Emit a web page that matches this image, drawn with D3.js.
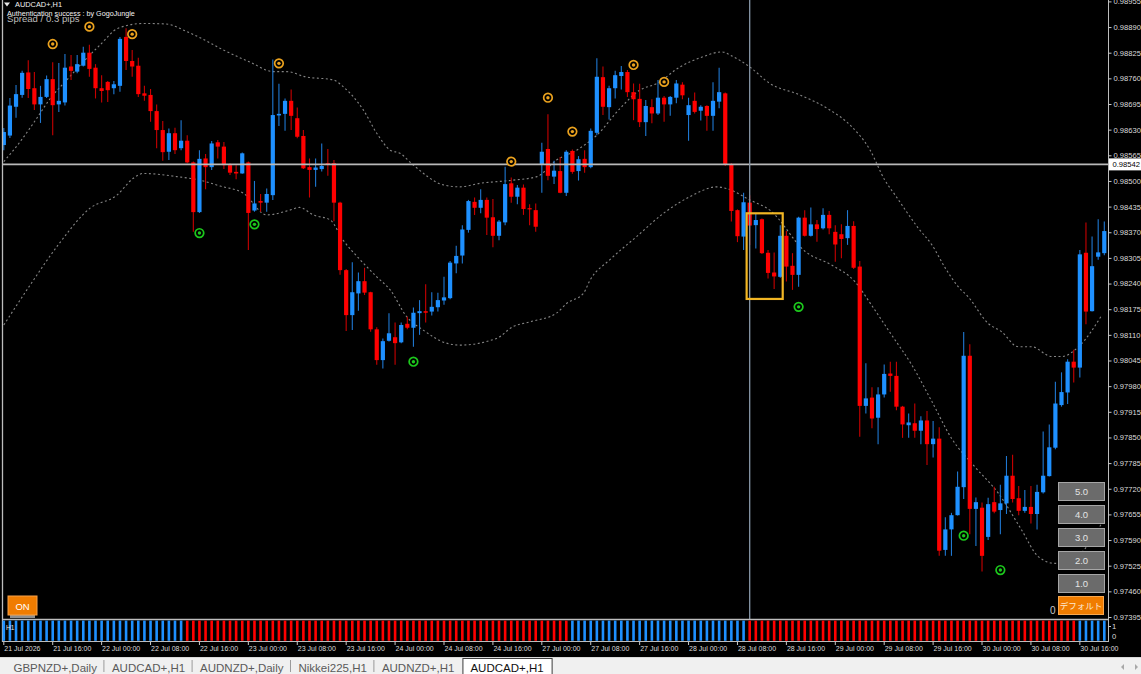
<!DOCTYPE html>
<html><head><meta charset="utf-8">
<script src="https://cdn.jsdelivr.net/npm/d3@7/dist/d3.min.js"></script>
<style>
html,body{margin:0;padding:0;background:#000;overflow:hidden}
svg{display:block;font-family:"Liberation Sans",Arial,sans-serif}
</style></head><body>
<svg id="c" width="1141" height="674"></svg>
<script>
// ---------- DATA (AUDCAD+, H1) ----------
const opens=[0.98591,0.98615,0.98688,0.98718,0.98775,0.98735,0.98694,0.98713,0.98758,0.98694,
0.98699,0.98790,0.98777,0.98792,0.98825,0.98787,0.98735,0.98751,0.98735,0.98741,
0.98865,0.98804,0.98792,0.98722,0.98718,0.98677,0.98629,0.98574,0.98621,0.98583,
0.98602,0.98547,0.98421,0.98557,0.98535,0.98598,0.98587,0.98540,0.98523,0.98519,
0.98547,0.98425,0.98449,0.98445,0.98464,0.98666,0.98670,0.98703,0.98659,0.98614,
0.98535,0.98528,0.98530,0.98545,0.98545,0.98445,0.98274,0.98160,0.98215,0.98246,
0.98218,0.98124,0.98046,0.98095,0.98104,0.98091,0.98138,0.98128,0.98165,0.98170,
0.98169,0.98180,0.98197,0.98203,0.98291,0.98311,0.98376,0.98447,0.98432,0.98452,
0.98408,0.98361,0.98395,0.98494,0.98460,0.98483,0.98431,0.98426,0.98543,0.98581,
0.98511,0.98525,0.98470,0.98576,0.98525,0.98556,0.98535,0.98622,0.98763,0.98687,
0.98735,0.98766,0.98776,0.98725,0.98708,0.98649,0.98687,0.98671,0.98711,0.98694,
0.98711,0.98744,0.98667,0.98703,0.98678,0.98690,0.98665,0.98701,0.98722,0.98543,
0.98426,0.98359,0.98445,0.98388,0.98403,0.98318,0.98268,0.98257,0.98361,0.98285,
0.98262,0.98407,0.98361,0.98390,0.98380,0.98414,0.98371,0.98365,0.98355,0.98386,
0.98283,0.97930,0.97951,0.97900,0.97959,0.98012,0.98006,0.97928,0.97881,0.97886,
0.97867,0.97893,0.97833,0.97847,0.97565,0.97617,0.97653,0.97724,0.98057,0.97669,
0.97672,0.97598,0.97686,0.97666,0.97683,0.97753,0.97696,0.97664,0.97674,0.97656,
0.97711,0.97752,0.97824,0.97932,0.97964,0.98042,0.98027,0.98318,0.98170,0.98308,
0.98317];
const highs=[0.98634,0.98710,0.98743,0.98779,0.98806,0.98776,0.98741,0.98767,0.98801,0.98799,
0.98822,0.98819,0.98819,0.98840,0.98845,0.98796,0.98768,0.98753,0.98753,0.98865,
0.98887,0.98832,0.98812,0.98741,0.98733,0.98694,0.98652,0.98633,0.98635,0.98654,
0.98616,0.98549,0.98578,0.98568,0.98601,0.98604,0.98599,0.98545,0.98540,0.98572,
0.98549,0.98500,0.98467,0.98481,0.98808,0.98746,0.98709,0.98732,0.98686,0.98629,
0.98557,0.98557,0.98595,0.98581,0.98553,0.98447,0.98277,0.98294,0.98268,0.98280,
0.98219,0.98129,0.98101,0.98165,0.98141,0.98141,0.98156,0.98179,0.98198,0.98238,
0.98218,0.98217,0.98257,0.98297,0.98336,0.98388,0.98452,0.98458,0.98479,0.98458,
0.98454,0.98401,0.98536,0.98509,0.98490,0.98491,0.98441,0.98443,0.98597,0.98669,
0.98551,0.98561,0.98578,0.98580,0.98563,0.98578,0.98633,0.98811,0.98790,0.98741,
0.98779,0.98791,0.98781,0.98747,0.98746,0.98705,0.98707,0.98756,0.98715,0.98715,
0.98756,0.98750,0.98711,0.98724,0.98692,0.98692,0.98750,0.98787,0.98724,0.98545,
0.98428,0.98470,0.98464,0.98416,0.98405,0.98325,0.98319,0.98388,0.98373,0.98317,
0.98409,0.98426,0.98433,0.98401,0.98431,0.98424,0.98388,0.98390,0.98426,0.98398,
0.98297,0.98038,0.97977,0.97977,0.98035,0.98042,0.98042,0.97930,0.97911,0.97936,
0.97904,0.97917,0.97892,0.97876,0.97648,0.97659,0.97764,0.98117,0.98086,0.97698,
0.97685,0.97697,0.97725,0.97730,0.97803,0.97806,0.97727,0.97717,0.97727,0.97730,
0.97865,0.97883,0.97991,0.98015,0.98048,0.98072,0.98325,0.98395,0.98359,0.98403,
0.98397];
const lows=[0.98578,0.98609,0.98660,0.98711,0.98710,0.98680,0.98647,0.98710,0.98616,0.98675,
0.98691,0.98756,0.98773,0.98790,0.98764,0.98709,0.98699,0.98700,0.98720,0.98726,
0.98781,0.98764,0.98713,0.98703,0.98650,0.98583,0.98551,0.98553,0.98568,0.98578,
0.98545,0.98371,0.98419,0.98479,0.98528,0.98557,0.98530,0.98515,0.98504,0.98518,
0.98325,0.98422,0.98422,0.98422,0.98452,0.98639,0.98627,0.98629,0.98608,0.98530,
0.98458,0.98485,0.98524,0.98513,0.98398,0.98262,0.98120,0.98122,0.98171,0.98211,
0.98118,0.98034,0.98025,0.98093,0.98034,0.98089,0.98124,0.98080,0.98110,0.98141,
0.98159,0.98169,0.98186,0.98200,0.98266,0.98291,0.98369,0.98414,0.98418,0.98363,
0.98332,0.98350,0.98388,0.98445,0.98441,0.98414,0.98388,0.98371,0.98470,0.98502,
0.98492,0.98469,0.98462,0.98518,0.98501,0.98521,0.98532,0.98616,0.98667,0.98656,
0.98709,0.98732,0.98713,0.98654,0.98637,0.98614,0.98646,0.98667,0.98650,0.98665,
0.98697,0.98707,0.98602,0.98671,0.98653,0.98627,0.98627,0.98684,0.98538,0.98397,
0.98345,0.98325,0.98338,0.98329,0.98315,0.98253,0.98226,0.98255,0.98245,0.98224,
0.98232,0.98359,0.98359,0.98346,0.98377,0.98365,0.98295,0.98304,0.98338,0.98277,
0.97852,0.97911,0.97873,0.97833,0.97951,0.97966,0.97919,0.97849,0.97849,0.97849,
0.97833,0.97780,0.97799,0.97550,0.97550,0.97550,0.97652,0.97694,0.97605,0.97575,
0.97510,0.97590,0.97658,0.97605,0.97656,0.97685,0.97653,0.97659,0.97632,0.97617,
0.97708,0.97751,0.97820,0.97928,0.97935,0.97989,0.98002,0.98137,0.98169,0.98300,
0.98312];
const closes=[0.98624,0.98691,0.98720,0.98774,0.98733,0.98694,0.98713,0.98758,0.98692,0.98703,
0.98787,0.98779,0.98796,0.98825,0.98784,0.98735,0.98728,0.98730,0.98745,0.98860,
0.98804,0.98790,0.98720,0.98716,0.98677,0.98629,0.98573,0.98621,0.98578,0.98602,
0.98547,0.98421,0.98556,0.98535,0.98595,0.98587,0.98540,0.98521,0.98519,0.98570,
0.98419,0.98443,0.98445,0.98467,0.98667,0.98670,0.98703,0.98665,0.98612,0.98532,
0.98528,0.98534,0.98538,0.98542,0.98445,0.98274,0.98160,0.98218,0.98246,0.98217,
0.98124,0.98046,0.98094,0.98114,0.98089,0.98135,0.98128,0.98166,0.98170,0.98166,
0.98181,0.98198,0.98205,0.98293,0.98310,0.98377,0.98449,0.98432,0.98452,0.98407,
0.98361,0.98397,0.98492,0.98460,0.98483,0.98429,0.98428,0.98384,0.98574,0.98513,
0.98526,0.98470,0.98574,0.98523,0.98555,0.98535,0.98627,0.98764,0.98688,0.98735,
0.98768,0.98776,0.98725,0.98707,0.98649,0.98690,0.98671,0.98711,0.98694,0.98713,
0.98747,0.98717,0.98692,0.98675,0.98688,0.98665,0.98703,0.98725,0.98542,0.98424,
0.98360,0.98446,0.98387,0.98401,0.98317,0.98267,0.98258,0.98361,0.98283,0.98262,
0.98407,0.98361,0.98390,0.98378,0.98414,0.98380,0.98339,0.98353,0.98386,0.98280,
0.97930,0.97949,0.97898,0.97959,0.98011,0.98006,0.97928,0.97883,0.97888,0.97867,
0.97893,0.97833,0.97847,0.97563,0.97617,0.97653,0.97725,0.98057,0.97669,0.97686,
0.97550,0.97681,0.97662,0.97683,0.97753,0.97694,0.97664,0.97674,0.97656,0.97712,
0.97753,0.97825,0.97936,0.97965,0.98042,0.98027,0.98314,0.98169,0.98284,0.98319,
0.98373];

// dotted envelope bands: [bar index, price]
const upperBand=[[0,0.98549],[2.65,0.98599],[5.4,0.98659],[7.6,0.98709],[10.3,0.98756],[13,0.98802],[15.7,0.98844],[18.7,0.98887],[22.8,0.98899],[26.4,0.98898],[30,0.98878],[32.1,0.98863],[35.9,0.98832],[40.3,0.98801],[44.1,0.98777],[46.3,0.98777],[49.3,0.98764],[53.9,0.98756],[55.5,0.98739],[58.8,0.98680],[61,0.98621],[63.2,0.98578],[64.8,0.98570],[67,0.98540],[71.9,0.98490],[74.6,0.98485],[77.9,0.98494],[83.3,0.98502],[87.2,0.98511],[90.4,0.98553],[93.7,0.98578],[97,0.98616],[100.8,0.98684],[104,0.98730],[106.8,0.98747],[110.6,0.98789],[114.4,0.98815],[117.4,0.98827],[119.3,0.98815],[122,0.98789],[125.3,0.98747],[130.2,0.98718],[135.1,0.98680],[138.4,0.98642],[141.7,0.98578],[144.1,0.98502],[145.8,0.98464],[149.6,0.98380],[151.8,0.98338],[154,0.98279],[156.1,0.98232],[157.7,0.98207],[161,0.98139],[163.2,0.98118],[165.9,0.98080],[168.1,0.98080],[171.4,0.98055],[173,0.98055],[175.8,0.98080],[179.6,0.98160]];
const lowerBand=[[0,0.98135],[4.3,0.98236],[8.9,0.98338],[14.1,0.98431],[18.5,0.98464],[21.2,0.98507],[22.8,0.98519],[28.3,0.98511],[32.1,0.98502],[35.4,0.98487],[39.2,0.98469],[43,0.98414],[46.8,0.98426],[48.4,0.98433],[50.6,0.98414],[53.4,0.98401],[55.5,0.98350],[58.3,0.98300],[61,0.98257],[63.2,0.98224],[65.9,0.98156],[68.6,0.98122],[72.4,0.98089],[74.6,0.98084],[80.6,0.98101],[83.3,0.98131],[86.1,0.98143],[90.4,0.98165],[92.1,0.98190],[94.8,0.98215],[95.9,0.98249],[99.1,0.98300],[103.5,0.98359],[107.9,0.98418],[112.2,0.98460],[116.6,0.98485],[118.2,0.98481],[122,0.98452],[125.3,0.98426],[131.1,0.98321],[135.4,0.98287],[139.2,0.98245],[141.9,0.98186],[145.2,0.98110],[148.5,0.98034],[151.8,0.97941],[155,0.97848],[158.8,0.97776],[162.7,0.97708],[166.5,0.97615],[169.2,0.97548],[171.9,0.97531],[174.3,0.97534],[177.3,0.97577],[179.9,0.97641]];

// signal markers: [bar index, price]
const sellSignals=[[8,0.98847],[14,0.98891],[21,0.98872],[45,0.98798],[83,0.98549],[89,0.98711],[93,0.98625],[103,0.98794],[108,0.98751]];
const buySignals=[[32,0.98368],[41,0.98390],[67,0.98042],[130,0.98181],[157,0.97601],[163,0.97514]];

// sub-window trend state runs: [first bar, last bar, state]
const stripRuns=[[0,29,1],[30,92,-1],[93,121,1],[122,175,-1],[176,180,1]];

const priceTicks=[0.98955,0.98890,0.98825,0.98760,0.98695,0.98630,0.98565,0.98500,0.98435,0.98370,0.98305,0.98240,0.98175,0.98110,0.98045,0.97980,0.97915,0.97850,0.97785,0.97720,0.97655,0.97590,0.97525,0.97460,0.97395];
const timeTicks=[[0,"21 Jul 2026"],[8,"21 Jul 16:00"],[16,"22 Jul 00:00"],[24,"22 Jul 08:00"],[32,"22 Jul 16:00"],[40,"23 Jul 00:00"],[48,"23 Jul 08:00"],[56,"23 Jul 16:00"],[64,"24 Jul 00:00"],[72,"24 Jul 08:00"],[80,"24 Jul 16:00"],[88,"27 Jul 00:00"],[96,"27 Jul 08:00"],[104,"27 Jul 16:00"],[112,"28 Jul 00:00"],[120,"28 Jul 08:00"],[128,"28 Jul 16:00"],[136,"29 Jul 00:00"],[144,"29 Jul 08:00"],[152,"29 Jul 16:00"],[160,"30 Jul 00:00"],[168,"30 Jul 08:00"],[176,"30 Jul 16:00"]];
const hLinePrice=0.98542;
const crossBar=122;
const zoneBox={from:121.5,to:127.4,high:0.98418,low:0.98201};
const stepButtons=["5.0","4.0","3.0","2.0","1.0"];
const tabNames=["GBPNZD+,Daily","AUDCAD+,H1","AUDNZD+,Daily","Nikkei225,H1","AUDNZD+,H1","AUDCAD+,H1"];

// ---------- DRAW ----------
const FONT="Liberation Sans, Arial, sans-serif";
const svg=d3.select("#c");
svg.append("rect").attr("width",1141).attr("height",674).attr("fill","#000");

const n=opens.length;
const x=d3.scaleLinear().domain([0,n-1]).range([3.8,1104.3]);
const y=d3.scaleLinear().domain([0.97395,0.98955]).range([617,1.4]);
const bars=d3.range(n).map(i=>({i,o:opens[i],h:highs[i],l:lows[i],c:closes[i]}));

const UP="#1e90ff",DN="#ff0000",UPW="#1f78d2",DNW="#c80000";

svg.append("clipPath").attr("id","cm").append("rect").attr("x",3).attr("y",0).attr("width",1105).attr("height",619);
const main=svg.append("g").attr("clip-path","url(#cm)");

// bands
const line=d3.line().x(d=>x(d[0])).y(d=>y(d[1])).curve(d3.curveMonotoneX);
main.selectAll("path.band").data([upperBand,lowerBand]).join("path").attr("class","band")
  .attr("d",line).attr("fill","none").attr("stroke","#858585").attr("stroke-width",1.1).attr("stroke-dasharray","2,2.5");

// candles
const cg=main.append("g");
cg.selectAll("line.w").data(bars).join("line").attr("class","w")
  .attr("x1",d=>x(d.i)).attr("x2",d=>x(d.i)).attr("y1",d=>y(d.h)).attr("y2",d=>y(d.l))
  .attr("stroke",d=>d.c>=d.o?UPW:DNW).attr("stroke-width",1.1);
cg.selectAll("rect.b").data(bars).join("rect").attr("class","b")
  .attr("x",d=>x(d.i)-2.1).attr("width",4.2)
  .attr("y",d=>y(Math.max(d.o,d.c)))
  .attr("height",d=>Math.max(1.2,Math.abs(y(d.o)-y(d.c))))
  .attr("fill",d=>d.c>=d.o?UP:DN);

// lines
main.append("line").attr("x1",3).attr("x2",1108).attr("y1",y(hLinePrice)).attr("y2",y(hLinePrice))
  .attr("stroke","#b9b9b9").attr("stroke-width",1.6);
main.append("line").attr("x1",x(crossBar)).attr("x2",x(crossBar)).attr("y1",0).attr("y2",619)
  .attr("stroke","#8797a8").attr("stroke-width",1.3);

// markers
function markers(data,color){
  const g=main.append("g").selectAll("g").data(data).join("g")
    .attr("transform",d=>`translate(${x(d[0])},${y(d[1])})`);
  g.append("circle").attr("r",4.3).attr("fill","#000").attr("stroke",color).attr("stroke-width",1.7);
  g.append("circle").attr("r",1.7).attr("fill",color);
}
markers(sellSignals,"#eba21e");
markers(buySignals,"#1cc81c");

// zone box
main.append("rect").attr("x",x(zoneBox.from)).attr("y",y(zoneBox.high))
  .attr("width",x(zoneBox.to)-x(zoneBox.from)).attr("height",y(zoneBox.low)-y(zoneBox.high))
  .attr("fill","none").attr("stroke","#f2b624").attr("stroke-width",2.2);

// frame lines
const frame="#bdbdbd";
svg.append("line").attr("x1",2.5).attr("x2",2.5).attr("y1",0).attr("y2",642).attr("stroke",frame).attr("stroke-width",1.3);
svg.append("line").attr("x1",1108.5).attr("x2",1108.5).attr("y1",0).attr("y2",642).attr("stroke",frame).attr("stroke-width",1);
svg.append("line").attr("x1",2.5).attr("x2",1108.5).attr("y1",619.5).attr("y2",619.5).attr("stroke",frame).attr("stroke-width",1.3);
svg.append("line").attr("x1",2.5).attr("x2",1108.5).attr("y1",641.5).attr("y2",641.5).attr("stroke",frame).attr("stroke-width",1);

// price axis
const ax=svg.append("g").attr("transform","translate(1108.5,0)")
  .call(d3.axisRight(y).tickValues(priceTicks).tickFormat(d3.format(".5f")).tickSize(3).tickPadding(2));
ax.select(".domain").remove();
ax.attr("font-family",FONT).attr("font-size",7.6);
ax.selectAll("line").attr("stroke","#c8c8c8");
ax.selectAll("text").attr("fill","#dcdcdc");

// current price label
svg.append("rect").attr("x",1109).attr("y",y(hLinePrice)-6).attr("width",32).attr("height",12).attr("fill","#fff");
svg.append("text").attr("x",1112.5).attr("y",y(hLinePrice)+3).attr("font-size",7.6).attr("font-family",FONT)
  .attr("fill","#000").text(d3.format(".5f")(hLinePrice));

// sub-window histogram
const ys=d3.scaleLinear().domain([0,1]).range([640.8,620.6]);
const stripState=d3.range(n).map(i=>stripRuns.find(r=>i>=r[0]&&i<=r[1])[2]);
svg.append("g").selectAll("rect").data(stripState).join("rect")
  .attr("x",(d,i)=>x(i)-1.3).attr("width",2.6).attr("y",ys(1)).attr("height",ys(0)-ys(1))
  .attr("fill",d=>d>0?UP:DN);
svg.append("text").attr("x",6).attr("y",630).attr("font-size",6.5).attr("font-family",FONT).attr("fill","#e6e6e6").text("H1");
svg.append("text").attr("x",1112).attr("y",629).attr("font-size",7.6).attr("font-family",FONT).attr("fill","#dcdcdc").text("1");
svg.append("text").attr("x",1112).attr("y",639).attr("font-size",7.6).attr("font-family",FONT).attr("fill","#dcdcdc").text("0");
svg.append("line").attr("x1",1108.5).attr("x2",1111).attr("y1",626.5).attr("y2",626.5).attr("stroke","#c8c8c8");

// time axis
const tg=svg.append("g").selectAll("g").data(timeTicks).join("g").attr("transform",d=>`translate(${x(d[0])},0)`);
tg.append("line").attr("y1",642).attr("y2",645).attr("stroke","#c8c8c8");
tg.append("text").attr("x",0.5).attr("y",651).attr("font-size",7).attr("font-family",FONT).attr("fill","#dcdcdc").text(d=>d[1]);

// header texts
svg.append("path").attr("d","M4,2.5 L10,2.5 L7,6.5 Z").attr("fill","#e8e8e8");
svg.append("text").attr("x",15).attr("y",6.5).attr("font-size",7.4).attr("font-family",FONT).attr("fill","#f0f0f0").text("AUDCAD+,H1");
svg.append("text").attr("x",7).attr("y",21.5).attr("font-size",9.6).attr("font-family",FONT).attr("fill","#bdbdbd").text("Spread / 0.3 pips");
svg.append("text").attr("x",7).attr("y",15.5).attr("font-size",7.2).attr("font-family",FONT).attr("fill","#f4f4f4").text("Authentication success : by GogoJungle");

// ON button
svg.append("rect").attr("x",10).attr("y",610).attr("width",25).attr("height",8).attr("fill","#8e8e8e");
svg.append("rect").attr("x",8).attr("y",596).attr("width",29).attr("height",19).attr("fill","#f07c00").attr("stroke","#f7a24a").attr("stroke-width",1);
svg.append("text").attr("x",22.5).attr("y",609.5).attr("text-anchor","middle").attr("font-size",9.5).attr("font-family",FONT).attr("fill","#fff").text("ON");

// step buttons
const bg=svg.append("g").selectAll("g").data(stepButtons).join("g").attr("transform",(d,i)=>`translate(1058,${482+i*23})`);
bg.append("rect").attr("x",0.5).attr("y",0.5).attr("width",46).attr("height",18).attr("fill","#6b6b6b").attr("stroke","#a6a6a6").attr("stroke-width",1);
bg.append("text").attr("x",23.5).attr("y",13).attr("text-anchor","middle").attr("font-size",9.5).attr("font-family",FONT).attr("fill","#e4e4e4").text(d=>d);
svg.append("rect").attr("x",1058.5).attr("y",596.5).attr("width",45).attr("height",18).attr("fill","#f07c00").attr("stroke","#f8a850").attr("stroke-width",1);
svg.append("text").attr("x",1081).attr("y",609).attr("text-anchor","middle").attr("font-size",8.5).attr("font-family","Noto Sans CJK JP, sans-serif").attr("fill","#fde9d0").text("デフォルト");
svg.append("text").attr("x",1050).attr("y",614).attr("font-size",10).attr("font-family",FONT).attr("fill","#c8c8c8").text("0");

// tab bar
svg.append("rect").attr("x",0).attr("y",657).attr("width",1141).attr("height",17).attr("fill","#f0f0f0");
svg.append("line").attr("x1",0).attr("x2",1141).attr("y1",657.5).attr("y2",657.5).attr("stroke","#d9d9d9");
let tx=13.5;
const tabG=svg.append("g");
tabNames.forEach((name,i)=>{
  const last=i===tabNames.length-1;
  if(last){
    const bx=tx-7.5;
    const r=tabG.append("rect").attr("x",bx).attr("y",658.5).attr("height",16).attr("fill","#fff").attr("stroke","#3c3c3c").attr("stroke-width",1);
    const t=tabG.append("text").attr("x",tx).attr("y",672).attr("font-size",11.5).attr("font-family",FONT).attr("fill","#111").text(name);
    const w=t.node().getComputedTextLength();
    r.attr("width",w+16);
  } else {
    const t=tabG.append("text").attr("x",tx).attr("y",671.5).attr("font-size",11.5).attr("font-family",FONT).attr("fill","#5a5a5a").text(name);
    const w=t.node().getComputedTextLength();
    const sx=tx+w+7;
    const nextLast=i===tabNames.length-2;
    if(!nextLast) tabG.append("line").attr("x1",sx).attr("x2",sx).attr("y1",660).attr("y2",672).attr("stroke","#9a9a9a");
    tx=nextLast? sx+9 : sx+8;
  }
});
svg.append("path").attr("d","M1124,664 L1124,670 L1121,667 Z").attr("fill","#a8a8a8");
svg.append("path").attr("d","M1135,664 L1135,670 L1138,667 Z").attr("fill","#a8a8a8");
</script>
</body></html>
